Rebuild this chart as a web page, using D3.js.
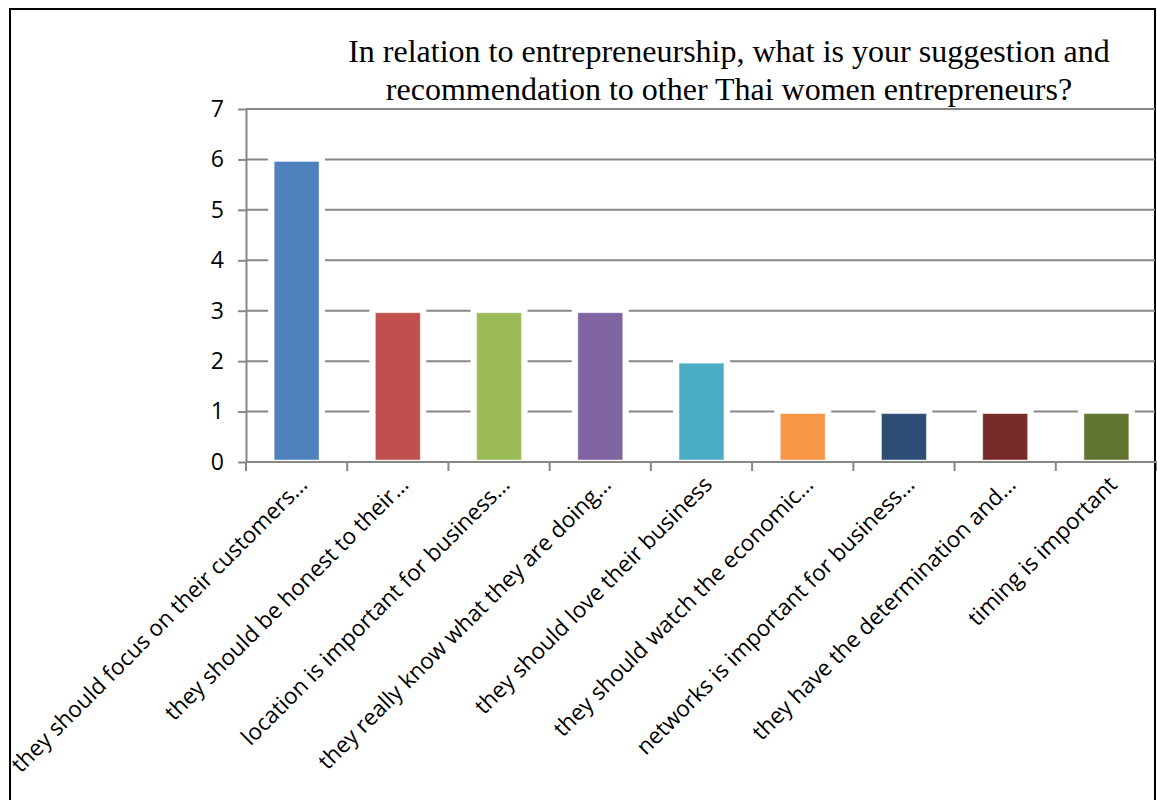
<!DOCTYPE html>
<html>
<head>
<meta charset="utf-8">
<script src="https://cdn.jsdelivr.net/npm/d3@7"></script>
<style>
  html, body { margin: 0; padding: 0; background: #fff; }
  svg { display: block; }
</style>
</head>
<body>
<script>
// Survey responses: suggestions to other Thai women entrepreneurs
const categories = [
  "they should focus on their customers…",
  "they should be honest to their…",
  "location is important for business…",
  "they really know what they are doing…",
  "they should love their business",
  "they should watch the economic…",
  "networks is important for business…",
  "they have the determination and…",
  "timing is important"
];
const counts = [6, 3, 3, 3, 2, 1, 1, 1, 1];
const barColors = ["#4F81BD", "#C0504D", "#9BBB59", "#8064A2", "#4BACC6",
                   "#F79646", "#2C4D75", "#772C2A", "#5F7530"];
const yTicks = [0, 1, 2, 3, 4, 5, 6, 7];
const titleLines = [
  "In relation to entrepreneurship, what is your suggestion and",
  "recommendation to other Thai women entrepreneurs?"
];

const W = 1157, H = 800;
const svg = d3.select("body").append("svg").attr("width", W).attr("height", H);

svg.append("rect").attr("width", W).attr("height", H).attr("fill", "#fff");

// Chart frame
svg.append("rect")
  .attr("x", 10).attr("y", 9).attr("width", 1145).attr("height", 820)
  .attr("fill", "none").attr("stroke", "#000").attr("stroke-width", 2);

const plot = { left: 246, right: 1157, top: 109, bottom: 462 };

const x = d3.scaleBand().domain(categories)
  .range([plot.left, plot.right]).paddingInner(0.556).paddingOuter(0.278);
const y = d3.scaleLinear().domain([0, 7]).range([plot.bottom, plot.top]);

const gridColor = "#878787";

// Horizontal gridlines
svg.append("g").selectAll("line").data(yTicks.filter(t => t > 0)).join("line")
  .attr("x1", plot.left).attr("x2", 1155)
  .attr("y1", d => y(d)).attr("y2", d => y(d))
  .attr("stroke", gridColor).attr("stroke-width", 2);

// White halo behind each bar breaks the gridlines
svg.append("g").selectAll("rect").data(counts).join("rect")
  .attr("x", (d, i) => x(categories[i]) - 6)
  .attr("width", x.bandwidth() + 12)
  .attr("y", d => y(d) - 5)
  .attr("height", d => y(0) - y(d) + 4)
  .attr("fill", "#fff");

// Bars
svg.append("g").selectAll("rect").data(counts).join("rect")
  .attr("x", (d, i) => x(categories[i]))
  .attr("width", x.bandwidth())
  .attr("y", d => y(d) + 2)
  .attr("height", d => y(0) - y(d) - 4)
  .attr("fill", (d, i) => barColors[i])
  .attr("stroke", "rgba(255,255,255,0.45)").attr("stroke-width", 1);

// Y axis
const yAxis = svg.append("g")
  .attr("transform", `translate(${plot.left},0)`)
  .call(d3.axisLeft(y).tickValues(yTicks).tickFormat(d3.format("d"))
    .tickSize(8).tickSizeOuter(0).tickPadding(14));
yAxis.select(".domain").attr("stroke", gridColor).attr("stroke-width", 2);
yAxis.selectAll(".tick line").attr("stroke", gridColor).attr("stroke-width", 2);
yAxis.selectAll(".tick text")
  .attr("font-family", "'Open Sans', sans-serif").attr("font-size", 23).attr("fill", "#000");

// X axis: ticks at band boundaries
const xAxis = svg.append("g").attr("transform", `translate(0,${plot.bottom})`);
xAxis.append("line")
  .attr("x1", plot.left).attr("x2", plot.right)
  .attr("stroke", gridColor).attr("stroke-width", 2);
const step = x.step();
const edge0 = x(categories[0]) - step * x.paddingOuter();
xAxis.selectAll("line.tk").data(d3.range(categories.length + 1)).join("line")
  .attr("class", "tk")
  .attr("x1", i => edge0 + i * step)
  .attr("x2", i => edge0 + i * step)
  .attr("y1", 0).attr("y2", 9)
  .attr("stroke", gridColor).attr("stroke-width", 2);

// Rotated category labels
xAxis.selectAll("text").data(categories).join("text")
  .attr("transform", d => `translate(${x(d) + x.bandwidth() / 2 + 12},${24}) rotate(-45)`)
  .attr("text-anchor", "end")
  .attr("font-family", "'Open Sans', sans-serif").attr("font-size", 22.5)
  .attr("fill", "#000")
  .text(d => d);

// Title
svg.append("g").selectAll("text").data(titleLines).join("text")
  .attr("x", 729).attr("y", (d, i) => 62 + i * 38)
  .attr("text-anchor", "middle")
  .attr("font-family", "'Liberation Serif', 'Times New Roman', serif")
  .attr("font-size", 32).attr("fill", "#000")
  .text(d => d);
</script>
</body>
</html>
